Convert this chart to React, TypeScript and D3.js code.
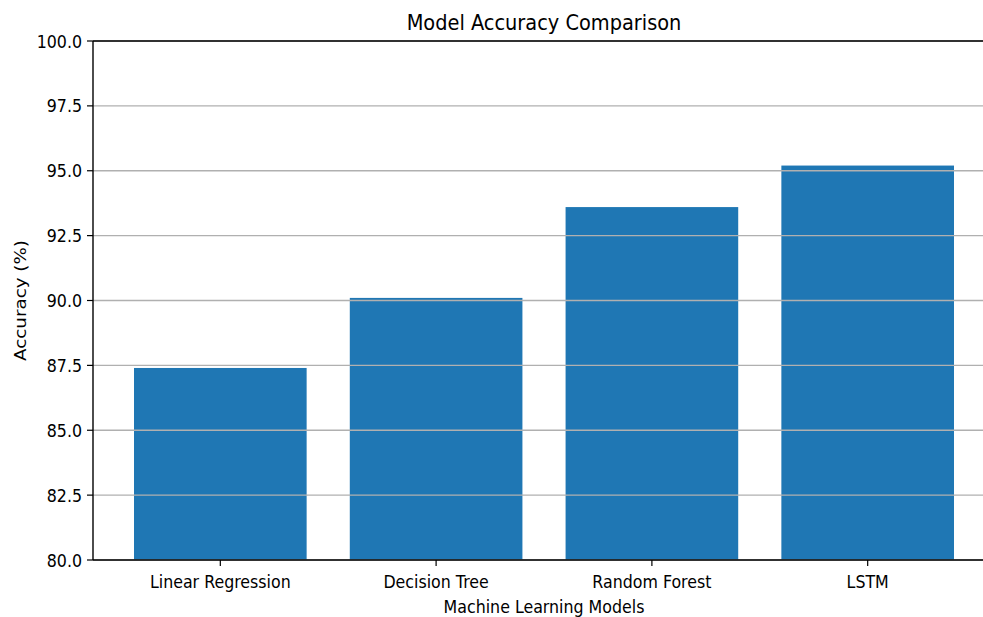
import React from "react";
import * as d3 from "d3";

const models = ["Linear Regression", "Decision Tree", "Random Forest", "LSTM"];
const accuracy = [87.4, 90.1, 93.6, 95.2];
const yTicks = [80, 82.5, 85, 87.5, 90, 92.5, 95, 97.5, 100];
const title = "Model Accuracy Comparison";
const xTitle = "Machine Learning Models";
const yTitle = "Accuracy (%)";

const W = 983;
const H = 617;
const SX = 0.88;
const FONT = "DejaVu Sans, sans-serif";

export default function App() {
  const left = 93;
  const right = 995;
  const top = 41;
  const bottom = 560;
  const x = d3.scaleLinear().domain([-0.59, 3.59]).range([left, right]);
  const y = d3.scaleLinear().domain([80, 100]).range([bottom, top]);
  const bw = x(0.4) - x(-0.4);
  const fmt = d3.format(".1f");

  const T = (
    tx: number,
    ty: number,
    text: string,
    size: number,
    anchor: string,
    rot = 0
  ) => (
    <g transform={`translate(${tx},${ty}) scale(${SX},1)${rot ? ` rotate(${rot})` : ""}`}>
      <text
        x={0}
        y={0}
        fontFamily={FONT}
        fontSize={size}
        textAnchor={anchor}
        fill="#000"
      >
        {text}
      </text>
    </g>
  );

  return (
    <svg
      width={W}
      height={H}
      style={{ position: "absolute", left: 0, top: 0, background: "#fff" }}
    >
      <rect x={0} y={0} width={W} height={H} fill="#fff" />
      {models.map((m, i) => (
        <rect
          key={m}
          x={x(i) - bw / 2}
          y={y(accuracy[i])}
          width={bw}
          height={y(80) - y(accuracy[i])}
          fill="#1f77b4"
        />
      ))}
      {yTicks.map((t) => (
        <line
          key={"g" + t}
          x1={left}
          x2={right}
          y1={y(t)}
          y2={y(t)}
          stroke="#b0b0b0"
          strokeWidth={1.3}
        />
      ))}
      {/* spines */}
      <line x1={left} x2={left} y1={top} y2={bottom} stroke="#000" strokeWidth={1.4} />
      <line x1={left} x2={right} y1={bottom} y2={bottom} stroke="#000" strokeWidth={1.4} />
      <line x1={left} x2={right} y1={top} y2={top} stroke="#000" strokeWidth={1.4} />
      <line x1={right} x2={right} y1={top} y2={bottom} stroke="#000" strokeWidth={1.4} />
      {yTicks.map((t) => (
        <g key={"yt" + t}>
          <line x1={left - 6} x2={left} y1={y(t)} y2={y(t)} stroke="#000" strokeWidth={1.2} />
          {T(left - 11, y(t) + 6.5, fmt(t), 18, "end")}
        </g>
      ))}
      {models.map((m, i) => (
        <g key={"xt" + m}>
          <line x1={x(i)} x2={x(i)} y1={bottom} y2={bottom + 6} stroke="#000" strokeWidth={1.2} />
          {T(x(i), 588, m, 18, "middle")}
        </g>
      ))}
      {T((left + right) / 2, 30, title, 22, "middle")}
      {T((left + right) / 2, 613, xTitle, 18, "middle")}
      {T(26, (top + bottom) / 2, yTitle, 18.3, "middle", -90)}
    </svg>
  );
}
